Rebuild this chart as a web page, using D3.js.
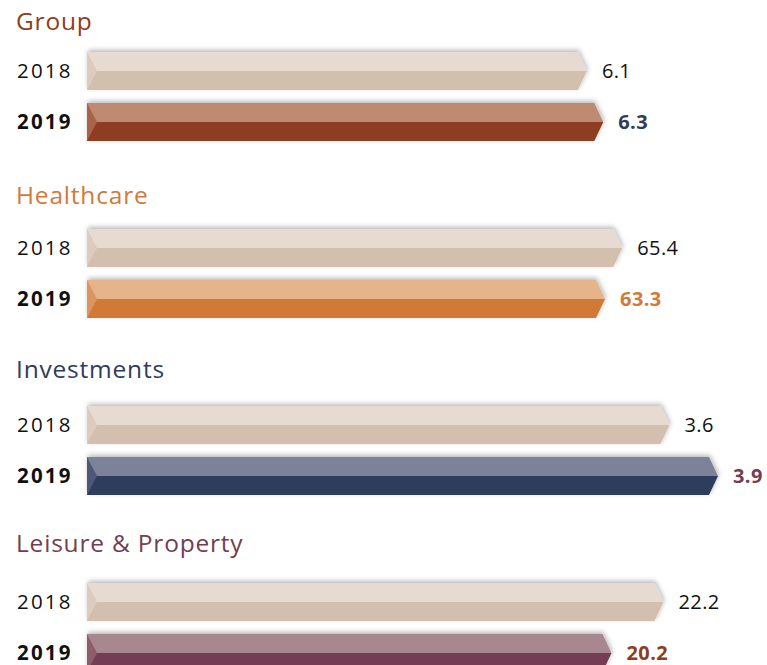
<!DOCTYPE html>
<html>
<head>
<meta charset="utf-8">
<script src="https://cdn.jsdelivr.net/npm/d3@7"></script>
<style>
  body { margin: 0; background: #fff; }
  text { font-family: "Open Sans", Lato, sans-serif; }
</style>
</head>
<body>
<script>
// Data
var groups = ["Group", "Healthcare", "Investments", "Leisure & Property"];
var years = ["2018", "2019"];
var values2018 = [6.1, 65.4, 3.6, 22.2];
var values2019 = [6.3, 63.3, 3.9, 20.2];
// every group uses its own scale
var domainMax = [7.7, 77.1, 3.9, 24.3];

var w = 767;
var h = 665;

// colours per group
var titleColor = ["#8e3d21", "#d17a39", "#2f3c5c", "#733d52"];
var topColor2019 = ["#bf8a72", "#e5b48b", "#7c8299", "#a98790"];
var bottomColor2019 = ["#8e3d21", "#d17a39", "#2f3c5c", "#733d52"];
var bevelColor2019 = ["#a9634a", "#dc955e", "#4e5878", "#8d5d6c"];
var valueColor2019 = ["#2f3c5c", "#d17a39", "#733d52", "#8e3d21"];
var light = { top: "#e6dad1", bottom: "#d3bfae", bevel: "#ddcbbe" };

var svg = d3.select("body").append("svg")
    .attr("width", w)
    .attr("height", h);

var defs = svg.append("defs");
var shadow = defs.append("filter")
    .attr("id", "shadow")
    .attr("x", "-10%").attr("y", "-40%")
    .attr("width", "120%").attr("height", "180%");
shadow.append("feDropShadow")
    .attr("dx", 1)
    .attr("dy", -2)
    .attr("stdDeviation", 2.5)
    .attr("flood-color", "#000")
    .attr("flood-opacity", 0.28);

var y = d3.scaleBand()
    .domain(groups)
    .range([52, 52 + 177 * groups.length]);

var yTitle = d3.scaleBand()
    .domain(groups)
    .range([30, 30 + 174 * groups.length]);

var yYear = d3.scaleBand()
    .domain(years)
    .range([0, 89])
    .paddingInner(0.255);

var x0 = 87;
var barRange = 631;
var tipIn = 9;
var bevelIn = 10;

var rows = [];
groups.forEach(function (g, i) {
    rows.push({ group: g, gi: i, year: "2018", value: values2018[i] });
    rows.push({ group: g, gi: i, year: "2019", value: values2019[i] });
});

// Group titles
svg.selectAll(".title")
    .data(groups)
    .enter().append("text")
    .attr("class", "title")
    .attr("x", 16)
    .attr("y", function (d) { return yTitle(d); })
    .attr("font-size", "24.5px")
    .attr("letter-spacing", "0.8px")
    .style("fill", function (d, i) { return titleColor[i]; })
    .text(function (d) { return d; });

var row = svg.selectAll(".row")
    .data(rows)
    .enter().append("g")
    .attr("class", "row")
    .attr("transform", function (d) {
        return "translate(0," + (y(d.group) + yYear(d.year)) + ")";
    });

var bh = yYear.bandwidth();

// year labels
row.append("text")
    .attr("x", 17)
    .attr("y", bh / 2)
    .attr("dy", "0.36em")
    .attr("font-size", "20.5px")
    .attr("letter-spacing", "2.2px")
    .attr("font-weight", function (d) { return d.year === "2019" ? "bold" : "normal"; })
    .style("fill", "#111")
    .text(function (d) { return d.year; });

function xEnd(d) {
    var x = d3.scaleLinear().domain([0, domainMax[d.gi]]).range([x0, x0 + barRange]);
    return x(d.value);
}

var bar = row.append("g")
    .attr("filter", "url(#shadow)");

bar.append("path")
    .style("fill", function (d) { return d.year === "2019" ? topColor2019[d.gi] : light.top; })
    .attr("d", function (d) {
        var e = xEnd(d);
        return "M" + x0 + ",0L" + (e - tipIn) + ",0L" + e + "," + (bh / 2) + "L" + x0 + "," + (bh / 2) + "Z";
    });

bar.append("path")
    .style("fill", function (d) { return d.year === "2019" ? bottomColor2019[d.gi] : light.bottom; })
    .attr("d", function (d) {
        var e = xEnd(d);
        return "M" + x0 + "," + (bh / 2) + "L" + e + "," + (bh / 2) + "L" + (e - tipIn) + "," + bh + "L" + x0 + "," + bh + "Z";
    });

bar.append("path")
    .style("fill", function (d) { return d.year === "2019" ? bevelColor2019[d.gi] : light.bevel; })
    .attr("d", "M" + x0 + ",0L" + (x0 + bevelIn) + "," + (bh / 2) + "L" + x0 + "," + bh + "Z");

// value labels
row.append("text")
    .attr("x", function (d) { return xEnd(d) + 15; })
    .attr("y", bh / 2)
    .attr("dy", "0.36em")
    .attr("font-size", "20px")
    .attr("letter-spacing", "0.4px")
    .attr("font-weight", function (d) { return d.year === "2019" ? "bold" : "normal"; })
    .style("fill", function (d) { return d.year === "2019" ? valueColor2019[d.gi] : "#111"; })
    .text(function (d) { return d3.format(".1f")(d.value); });
</script>
</body>
</html>
